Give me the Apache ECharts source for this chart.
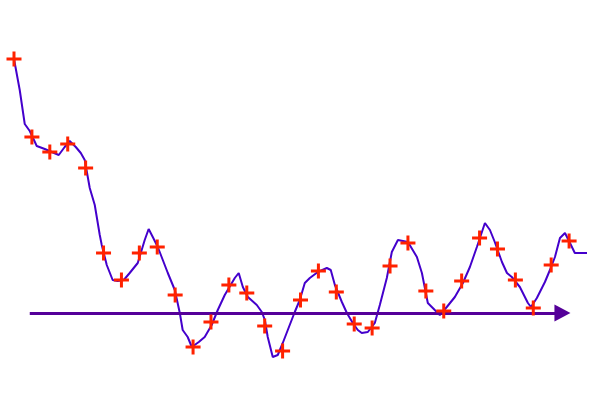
<!DOCTYPE html>
<html>
<head>
<meta charset="utf-8">
<script src="https://cdn.jsdelivr.net/npm/echarts@6/dist/echarts.min.js"></script>
<style>html,body{margin:0;padding:0;background:#fff}#c{width:600px;height:400px}</style>
</head>
<body>
<div id="c"></div>
<script>
// Marker series (index positions 0..31)
const markerY = [25.4, 17.6, 16.1, 16.9, 14.5, 6.0, 3.3, 6.0, 6.6, 1.8,
  -3.4, -0.9, 2.8, 2.0, -1.3, -3.8, 1.3, 4.2, 2.1, -1.1,
  -1.5, 4.7, 7.0, 2.2, 0.2, 3.2, 7.5, 6.4, 3.3, 0.5,
  4.8, 7.2];

// Dense line trace
const lineX = [0, 0.32, 0.60, 0.88, 1.27, 1.72, 2.11, 2.50, 2.83, 3.11,
  3.45, 3.73, 3.95, 4.23, 4.51, 4.79, 4.90, 5.18, 5.51, 5.79,
  6.13, 6.46, 6.91, 7.30, 7.52, 7.75, 8.03, 8.31, 8.59, 8.98,
  9.26, 9.42, 9.70, 9.93, 10.32, 10.65, 11.04, 11.38, 11.77, 12.33,
  12.55, 12.78, 13.06, 13.56, 13.84, 14.01, 14.17, 14.45, 14.73, 15.01,
  15.29, 15.68, 15.96, 16.24, 16.52, 16.97, 17.47, 17.69, 17.92, 18.31,
  18.59, 18.92, 19.20, 19.42, 19.76, 20.15, 20.43, 20.82, 21.10, 21.44,
  22.00, 22.50, 22.78, 23.11, 23.50, 23.78, 24.17, 24.62, 25.07, 25.46,
  25.85, 26.30, 26.58, 26.85, 27.25, 27.53, 27.80, 28.25, 28.70, 28.87,
  29.20, 29.65, 29.93, 30.21, 30.49, 30.77, 31.05, 31.32, 32.00];
const lineY = [25.4, 22.3, 18.9, 18.2, 16.7, 16.4, 16.1, 15.8, 16.6, 17.2,
  16.6, 16.0, 15.3, 12.5, 10.8, 7.8, 6.8, 4.8, 3.3, 3.2,
  3.3, 4.0, 5.0, 7.3, 8.4, 7.6, 6.6, 5.3, 4.0, 2.3,
  0.0, -1.7, -2.4, -3.4, -2.9, -2.4, -1.2, 0.3, 1.8, 3.5,
  4.0, 2.6, 1.6, 0.8, 0.1, -0.7, -2.4, -4.4, -4.2, -3.0,
  -1.7, 0.1, 1.3, 3.0, 3.5, 4.1, 4.5, 4.3, 2.8, 1.1,
  0.0, -1.0, -1.7, -2.0, -1.9, -1.0, 0.8, 3.5, 6.1, 7.3,
  7.1, 5.6, 4.0, 1.0, 0.3, -0.2, 0.6, 1.6, 3.0, 4.6,
  6.6, 9.0, 8.3, 7.1, 5.1, 4.0, 3.6, 2.6, 1.0, 0.6,
  1.5, 3.1, 4.3, 5.6, 7.5, 8.0, 7.0, 6.0, 6.0];

// Baseline arrow extent
const arrowStart = 0.88;
const arrowEnd = 30.63;

const chart = echarts.init(document.getElementById('c'), null, {renderer: 'canvas'});
chart.setOption({
  animation: false,
  grid: {left: 14, right: 13, top: 33, bottom: 27},
  xAxis: {type: 'value', min: 0, max: 32, show: false},
  yAxis: {type: 'value', min: -6, max: 28, show: false},
  series: [
    {
      type: 'line',
      data: lineX.map((x, i) => [x, lineY[i]]),
      showSymbol: false,
      symbol: 'none',
      lineStyle: {color: '#4400cc', width: 2},
      z: 3,
      markLine: {
        silent: true,
        symbol: ['none', 'triangle'],
        symbolSize: [17, 16],
        label: {show: false},
        lineStyle: {type: 'solid', color: '#550099', width: 3},
        data: [[{coord: [arrowStart, 0]}, {coord: [arrowEnd, 0]}]]
      }
    },
    {
      type: 'scatter',
      data: markerY.map((y, i) => [i, y]),
      symbol: 'path://M6,0H9V6H15V9H9V15H6V9H0V6H6Z',
      symbolSize: 15,
      itemStyle: {color: '#ff2200', opacity: 1},
      z: 5
    }
  ]
});
</script>
</body>
</html>
